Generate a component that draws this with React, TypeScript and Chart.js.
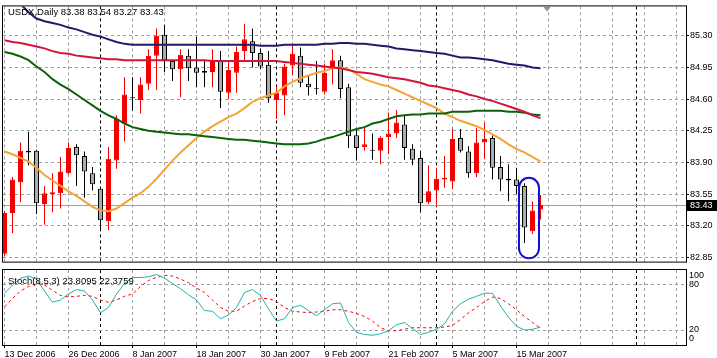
import React, { useEffect, useRef } from 'react';
import { Chart, registerables } from 'chart.js';

Chart.register(...registerables);

// ---- data ----
const OPEN = [82.89, 83.34, 83.68, 84.03, 84.03, 83.44, 83.55, 83.56, 83.78, 84.07, 83.97, 83.78, 83.61, 83.25, 83.92, 84.33, 84.62, 84.59, 84.77, 85.08, 85.31, 85.02, 84.93, 85.08, 84.95, 84.91, 84.90, 85.02, 84.67, 84.89, 85.13, 85.24, 85.11, 84.98, 84.59, 84.64, 84.97, 85.08, 84.77, 84.72, 84.68, 84.94, 85.03, 84.73, 84.20, 84.07, 84.04, 84.03, 84.18, 84.22, 84.32, 84.05, 83.95, 83.46, 83.59, 83.71, 83.69, 84.17, 84.02, 83.78, 84.12, 84.17, 83.85, 83.72, 83.71, 83.64, 83.14, 83.38];
const HIGH = [83.36, 83.74, 84.12, 84.24, 84.04, 83.64, 83.78, 83.96, 84.12, 84.10, 84.02, 83.85, 83.62, 84.07, 84.42, 84.84, 84.84, 84.84, 85.15, 85.38, 85.42, 85.03, 85.15, 85.15, 85.29, 85.02, 85.15, 85.13, 85.02, 85.18, 85.43, 85.38, 85.16, 85.13, 84.74, 84.99, 85.21, 85.17, 84.86, 85.02, 84.99, 85.15, 85.08, 84.77, 84.28, 84.28, 84.22, 84.19, 84.45, 84.48, 84.42, 84.10, 84.03, 83.87, 83.84, 83.97, 84.27, 84.27, 84.08, 84.28, 84.34, 84.20, 83.97, 83.88, 83.84, 83.67, 83.47, 83.54];
const LOW = [82.86, 83.12, 83.46, 83.87, 83.33, 83.21, 83.35, 83.39, 83.77, 83.64, 83.51, 83.59, 83.15, 83.15, 83.83, 84.13, 84.47, 84.44, 84.70, 84.70, 84.90, 84.80, 84.62, 84.80, 84.73, 84.73, 84.73, 84.50, 84.60, 84.67, 85.02, 84.95, 84.93, 84.56, 84.38, 84.42, 84.86, 84.73, 84.64, 84.65, 84.65, 84.76, 84.61, 84.06, 83.92, 84.03, 83.93, 83.88, 83.99, 84.17, 83.93, 83.87, 83.35, 83.44, 83.43, 83.62, 83.61, 84.01, 83.73, 83.74, 83.94, 83.71, 83.58, 83.47, 83.55, 83.01, 83.11, 83.27];
const CLOSE = [83.34, 83.71, 84.03, 84.01, 83.45, 83.56, 83.57, 83.80, 84.06, 83.98, 83.80, 83.66, 83.26, 83.94, 84.38, 84.65, 84.61, 84.76, 85.08, 85.30, 85.03, 84.93, 85.09, 84.94, 84.89, 84.89, 85.03, 84.68, 84.92, 85.12, 85.26, 85.11, 84.96, 84.61, 84.67, 84.96, 85.10, 84.78, 84.73, 84.71, 84.89, 85.03, 84.71, 84.19, 84.06, 84.10, 84.03, 84.17, 84.22, 84.34, 84.06, 83.93, 83.45, 83.58, 83.72, 83.73, 84.16, 84.03, 83.78, 84.12, 84.16, 83.84, 83.71, 83.70, 83.64, 83.18, 83.37, 83.43];

const MA_NAVY = [85.80, 85.72, 85.65, 85.56, 85.49, 85.46, 85.44, 85.42, 85.39, 85.37, 85.34, 85.31, 85.29, 85.26, 85.23, 85.21, 85.20, 85.20, 85.20, 85.20, 85.20, 85.20, 85.20, 85.20, 85.20, 85.20, 85.20, 85.20, 85.20, 85.20, 85.20, 85.20, 85.19, 85.19, 85.19, 85.20, 85.20, 85.20, 85.20, 85.20, 85.21, 85.21, 85.22, 85.22, 85.21, 85.21, 85.20, 85.19, 85.18, 85.16, 85.15, 85.14, 85.13, 85.12, 85.11, 85.10, 85.08, 85.06, 85.06, 85.05, 85.04, 85.03, 85.01, 84.99, 84.98, 84.97, 84.95, 84.94];
const MA_CRIMSON = [85.25, 85.23, 85.22, 85.20, 85.18, 85.16, 85.13, 85.11, 85.10, 85.08, 85.07, 85.06, 85.05, 85.04, 85.04, 85.03, 85.03, 85.03, 85.03, 85.03, 85.03, 85.03, 85.03, 85.03, 85.03, 85.03, 85.02, 85.02, 85.02, 85.02, 85.02, 85.02, 85.02, 85.02, 85.02, 85.01, 85.00, 84.99, 84.98, 84.97, 84.96, 84.95, 84.94, 84.92, 84.90, 84.89, 84.88, 84.86, 84.84, 84.83, 84.82, 84.80, 84.78, 84.75, 84.74, 84.72, 84.70, 84.68, 84.65, 84.63, 84.60, 84.58, 84.55, 84.52, 84.49, 84.46, 84.42, 84.39];
const MA_GREEN = [85.12, 85.10, 85.07, 85.03, 84.96, 84.90, 84.82, 84.76, 84.71, 84.65, 84.59, 84.53, 84.47, 84.42, 84.38, 84.33, 84.29, 84.27, 84.25, 84.24, 84.23, 84.22, 84.21, 84.21, 84.20, 84.19, 84.18, 84.17, 84.16, 84.15, 84.15, 84.14, 84.13, 84.12, 84.11, 84.10, 84.10, 84.10, 84.11, 84.13, 84.16, 84.18, 84.21, 84.24, 84.27, 84.29, 84.33, 84.35, 84.38, 84.41, 84.42, 84.43, 84.43, 84.44, 84.44, 84.44, 84.46, 84.46, 84.46, 84.47, 84.47, 84.47, 84.47, 84.46, 84.46, 84.45, 84.43, 84.42];
const MA_ORANGE = [84.02, 83.99, 83.95, 83.91, 83.84, 83.76, 83.70, 83.64, 83.58, 83.53, 83.47, 83.41, 83.37, 83.36, 83.39, 83.45, 83.51, 83.56, 83.63, 83.72, 83.82, 83.92, 84.01, 84.09, 84.17, 84.24, 84.30, 84.35, 84.40, 84.44, 84.50, 84.57, 84.61, 84.64, 84.67, 84.74, 84.79, 84.83, 84.86, 84.89, 84.91, 84.94, 84.95, 84.93, 84.88, 84.82, 84.79, 84.76, 84.74, 84.70, 84.66, 84.62, 84.58, 84.54, 84.50, 84.44, 84.40, 84.36, 84.33, 84.30, 84.26, 84.21, 84.16, 84.10, 84.05, 84.01, 83.96, 83.91];

const STOCH_MAIN = [69, 80, 89, 92, 88, 72, 57, 60, 68, 74, 72, 60, 43, 50, 68, 82, 90, 90, 91, 94, 89, 82, 75, 67, 60, 46, 45, 35, 40, 50, 70, 74, 66, 48, 32, 35, 50, 53, 46, 39, 47, 55, 56, 30, 17, 14, 13, 15, 19, 27, 30, 22, 14, 17, 21, 28, 45, 55, 61, 65, 69, 69, 52, 37, 25, 20, 21, 23.8095];
const STOCH_SIGNAL = [51, 62, 72, 78, 82, 80, 73, 66, 64, 65, 66, 65, 60, 57, 60, 65, 68, 78, 86, 90, 93, 92, 88, 83, 76, 70, 60, 50, 45, 45, 52, 58, 62, 62, 58, 50, 45, 44, 43, 44, 45, 47, 47, 45, 42, 38, 32, 23, 19, 19, 21, 23, 23, 23, 23, 24, 26, 34, 43, 50, 58, 64, 62, 55, 47, 38, 30, 22.3759];

const LABEL_BARS = [0, 8, 16, 24, 32, 40, 48, 56, 64];
const LABEL_TEXTS = ['13 Dec 2006', '26 Dec 2006', '8 Jan 2007', '18 Jan 2007', '30 Jan 2007', '9 Feb 2007', '21 Feb 2007', '5 Mar 2007', '15 Mar 2007'];
const GRID_BARS = [0, 4, 8, 12, 16, 20, 24, 28, 32, 36, 40, 44, 48, 52, 56, 60, 64, 68, 72, 76, 80, 84];
const SEPARATOR_BARS = [12, 34, 54, 79];
const PRICE_TICKS = [82.85, 83.2, 83.55, 83.9, 84.25, 84.6, 84.95, 85.3];
const STOCH_GRID = [20, 80];
const STOCH_LEVELS = [100, 80, 20, 0];
const HIGHLIGHT_BARS = [64.31, 66.81];
const HIGHLIGHT_PRICES = [83.73, 82.84];
const SHIFT_MARK_BAR = 67.8;
const SYMBOL = 'USDX,Daily';
const STOCH_NAME = 'Stoch(8,5,3)';

// ---- layout constants ----
const W = 717;
const MAIN_H = 268;
const SUB_H = 90;
const X_MIN = -0.1875;
const X_MAX = 85.1875;
const Y_MIN = 82.804;
const Y_MAX = 85.624;
const AXIS_W = 31;
const FONT = 'Liberation Sans, Arial, sans-serif';

const LAST = CLOSE.length - 1;
const BARS = CLOSE.map((_, i) => i);
const isBull = (i: number) => CLOSE[i] >= OPEN[i];
const RED = '#f50000';
const GRAY = '#acacac';
const GRID_COLOR = '#a0a0a0';
const TICK_BARS = Array.from(new Set([...GRID_BARS, ...SEPARATOR_BARS])).sort((a, b) => a - b);

function xScale(showLabels: boolean): any {
  return {
    type: 'linear',
    min: X_MIN,
    max: X_MAX,
    offset: false,
    afterBuildTicks: (s: any) => {
      s.ticks = TICK_BARS.map((v) => ({ value: v }));
    },
    afterFit: (s: any) => {
      s.height = showLabels ? 13 : 0;
    },
    grid: {
      display: true,
      offset: false,
      drawOnChartArea: true,
      drawTicks: showLabels,
      tickLength: 3,
      lineWidth: 1,
      color: (c: any) => (c.tick && SEPARATOR_BARS.includes(c.tick.value) ? '#000000' : GRID_COLOR),
      tickColor: (c: any) => (c.tick && LABEL_BARS.includes(c.tick.value) ? '#000000' : 'rgba(0,0,0,0)'),
      tickBorderDash: [],
    },
    border: { display: false, dash: [3, 3] },
    ticks: {
      display: showLabels,
      autoSkip: false,
      maxRotation: 0,
      minRotation: 0,
      align: 'start',
      padding: 1,
      color: '#000',
      font: { family: FONT, size: 9 },
      callback: (v: any) => {
        const k = LABEL_BARS.indexOf(Number(v));
        return k >= 0 ? LABEL_TEXTS[k] : '';
      },
    },
  };
}

const frame = (ctx: CanvasRenderingContext2D, a: any) => {
  ctx.save();
  ctx.strokeStyle = '#000';
  ctx.lineWidth = 1;
  ctx.setLineDash([]);
  ctx.strokeRect(a.left - 0.5, a.top - 0.5, a.right - a.left + 1, a.bottom - a.top + 1);
  ctx.restore();
};

const mainDecor = {
  id: 'mainDecor',
  beforeDatasetsDraw(chart: any) {
    const { ctx, chartArea: a, scales } = chart;
    const py = Math.round(scales.y.getPixelForValue(CLOSE[LAST])) + 0.5;
    ctx.save();
    ctx.strokeStyle = '#a0a0a0';
    ctx.lineWidth = 1;
    ctx.beginPath();
    ctx.moveTo(a.left, py);
    ctx.lineTo(a.right, py);
    ctx.stroke();
    ctx.restore();
  },
  afterDatasetsDraw(chart: any) {
    const { ctx, scales } = chart;
    const x0 = scales.x.getPixelForValue(HIGHLIGHT_BARS[0]);
    const x1 = scales.x.getPixelForValue(HIGHLIGHT_BARS[1]);
    const y0 = scales.y.getPixelForValue(HIGHLIGHT_PRICES[0]);
    const y1 = scales.y.getPixelForValue(HIGHLIGHT_PRICES[1]);
    const w = x1 - x0;
    ctx.save();
    ctx.strokeStyle = '#1010d0';
    ctx.lineWidth = 2;
    ctx.beginPath();
    (ctx as any).roundRect(x0, y0, w, y1 - y0, w / 2);
    ctx.stroke();
    ctx.restore();
  },
  afterDraw(chart: any) {
    const { ctx, chartArea: a, scales } = chart;
    frame(ctx, a);
    ctx.save();
    // title
    ctx.fillStyle = '#000';
    ctx.font = `9.5px ${FONT}`;
    ctx.textBaseline = 'alphabetic';
    ctx.textAlign = 'left';
    const title = `${SYMBOL} ${OPEN[LAST].toFixed(2)} ${HIGH[LAST].toFixed(2)} ${LOW[LAST].toFixed(2)} ${CLOSE[LAST].toFixed(2)}`;
    ctx.fillText(title, 8, 15);
    // current price box
    const py = Math.round(scales.y.getPixelForValue(CLOSE[LAST]));
    ctx.fillStyle = '#000';
    ctx.fillRect(a.right + 1, py - 5, 30, 11);
    ctx.fillStyle = '#fff';
    ctx.font = `9px ${FONT}`;
    ctx.textBaseline = 'middle';
    ctx.fillText(CLOSE[LAST].toFixed(2), a.right + 4, py + 0.5);
    // shift marker
    const cx = Math.round(scales.x.getPixelForValue(SHIFT_MARK_BAR));
    ctx.fillStyle = '#8a929c';
    ctx.beginPath();
    ctx.moveTo(cx - 4, a.top);
    ctx.lineTo(cx + 4, a.top);
    ctx.lineTo(cx, a.top + 5);
    ctx.closePath();
    ctx.fill();
    ctx.restore();
  },
};

const subDecor = {
  id: 'subDecor',
  afterDraw(chart: any) {
    const { ctx, chartArea: a, scales } = chart;
    frame(ctx, a);
    ctx.save();
    ctx.fillStyle = '#000';
    ctx.font = `9.5px ${FONT}`;
    ctx.textAlign = 'left';
    ctx.textBaseline = 'alphabetic';
    ctx.fillText(`${STOCH_NAME} ${STOCH_MAIN[LAST].toFixed(4)} ${STOCH_SIGNAL[LAST].toFixed(4)}`, 8, 15.5);
    ctx.font = `9px ${FONT}`;
    ctx.textBaseline = 'middle';
    STOCH_LEVELS.forEach((lv) => {
      const p = scales.y.getPixelForValue(lv);
      const yy = Math.min(Math.max(p, a.top + 6), a.bottom - 6);
      ctx.fillText(String(lv), a.right + 3, yy);
    });
    ctx.restore();
  },
};

export default function App() {
  const mainRef = useRef<HTMLCanvasElement | null>(null);
  const subRef = useRef<HTMLCanvasElement | null>(null);

  useEffect(() => {
    if (!mainRef.current || !subRef.current) return;

    const wickColors = BARS.map((i) => (isBull(i) ? RED : '#000000'));
    const bodyFill = BARS.map((i) => (isBull(i) ? RED : GRAY));
    const bodyBorder = BARS.map((i) => (isBull(i) ? RED : '#000000'));
    const line = (vals: number[], color: string, width: number, order: number) => ({
      type: 'line',
      data: vals.map((v, i) => ({ x: i, y: v })),
      borderColor: color,
      borderWidth: width,
      pointRadius: 0,
      tension: 0,
      fill: false,
      order,
    });

    const main = new Chart(mainRef.current, {
      type: 'bar',
      data: {
        datasets: [
          line(MA_NAVY, '#1c1c6a', 2, 0),
          line(MA_CRIMSON, '#d4143e', 2, 0),
          line(MA_GREEN, '#0b620b', 2, 0),
          line(MA_ORANGE, '#f7a234', 2, 0),
          {
            type: 'bar',
            data: BARS.map((i) => ({ x: i, y: [OPEN[i], CLOSE[i]] })),
            backgroundColor: bodyFill,
            borderColor: bodyBorder,
            borderWidth: 1,
            borderSkipped: false,
            grouped: false,
            maxBarThickness: 5,
            order: 1,
          },
          {
            type: 'bar',
            data: BARS.map((i) => ({ x: i, y: [LOW[i], HIGH[i]] })),
            backgroundColor: wickColors,
            borderWidth: 0,
            grouped: false,
            maxBarThickness: 1,
            order: 2,
          },
        ] as any,
      },
      options: {
        responsive: false,
        animation: false,
        events: [],
        layout: { padding: { left: 3, top: 2, right: 0, bottom: 2 } },
        plugins: { legend: { display: false }, tooltip: { enabled: false } },
        scales: {
          x: xScale(false),
          y: {
            position: 'right',
            min: Y_MIN,
            max: Y_MAX,
            afterBuildTicks: (s: any) => {
              s.ticks = PRICE_TICKS.map((v) => ({ value: v }));
            },
            afterFit: (s: any) => {
              s.width = AXIS_W;
            },
            grid: {
              color: GRID_COLOR,
              lineWidth: 1,
              drawTicks: true,
              tickLength: 3,
              tickColor: '#000',
              tickBorderDash: [],
            },
            border: { display: false, dash: [3, 3] },
            ticks: {
              padding: 1,
              color: '#000',
              font: { family: FONT, size: 9 },
              callback: (v: any) => Number(v).toFixed(2),
            },
          },
        } as any,
      },
      plugins: [mainDecor],
    } as any);

    const sub = new Chart(subRef.current, {
      type: 'line',
      data: {
        datasets: [
          {
            data: STOCH_MAIN.map((v, i) => ({ x: i, y: v })),
            borderColor: '#20b2aa',
            borderWidth: 1,
            pointRadius: 0,
            tension: 0,
          },
          {
            data: STOCH_SIGNAL.map((v, i) => ({ x: i, y: v })),
            borderColor: '#ff0000',
            borderWidth: 1,
            borderDash: [3, 3],
            pointRadius: 0,
            tension: 0,
          },
        ],
      },
      options: {
        responsive: false,
        animation: false,
        events: [],
        layout: { padding: { left: 3, top: 2, right: 0, bottom: 0 } },
        plugins: { legend: { display: false }, tooltip: { enabled: false } },
        scales: {
          x: xScale(true),
          y: {
            position: 'right',
            min: 0,
            max: 100,
            afterBuildTicks: (s: any) => {
              s.ticks = STOCH_GRID.map((v) => ({ value: v }));
            },
            afterFit: (s: any) => {
              s.width = AXIS_W;
            },
            grid: { color: GRID_COLOR, lineWidth: 1, drawTicks: false },
            border: { display: false, dash: [3, 3] },
            ticks: { display: false },
          },
        } as any,
      },
      plugins: [subDecor],
    } as any);

    return () => {
      main.destroy();
      sub.destroy();
    };
  }, []);

  return (
    <div style={{ position: 'fixed', left: 0, top: 0, width: W, height: MAIN_H + SUB_H, background: '#fff' }}>
      <canvas ref={mainRef} width={W} height={MAIN_H} style={{ position: 'absolute', left: 0, top: 0, display: 'block' }} />
      <canvas ref={subRef} width={W} height={SUB_H} style={{ position: 'absolute', left: 0, top: MAIN_H, display: 'block' }} />
    </div>
  );
}
